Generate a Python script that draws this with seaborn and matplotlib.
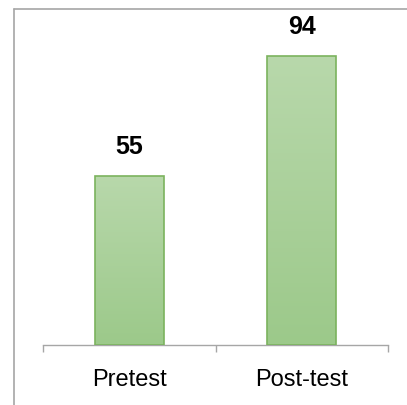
import numpy as np
import pandas as pd
import matplotlib
matplotlib.use("Agg")
import matplotlib.pyplot as plt
from matplotlib.lines import Line2D
from matplotlib.colors import LinearSegmentedColormap
import seaborn as sns

categories = ["Pretest", "Post-test"]
scores = [55, 94]

sns.set_theme(style="white")
plt.rcParams["font.family"] = ["Liberation Sans Narrow", "Liberation Sans", "DejaVu Sans"]

df = pd.DataFrame({"test": categories, "score": scores})

fig = plt.figure(figsize=(4.07, 4.05), dpi=100)
ax = fig.add_axes([43 / 407, 60 / 405, 345 / 407, 336 / 405])

sns.barplot(data=df, x="test", y="score", order=categories, width=0.4,
            color="#a9d096", edgecolor="#7bb35e", linewidth=1.2, saturation=1, ax=ax)

# vertical gradient inside each bar
cmap = LinearSegmentedColormap.from_list("g", ["#9cc98a", "#b8d8ab"])
grad = np.linspace(0, 1, 256).reshape(-1, 1)
for patch in ax.patches:
    x0, y0 = patch.get_x(), patch.get_y()
    w, h = patch.get_width(), patch.get_height()
    im = ax.imshow(grad, cmap=cmap, origin="lower", aspect="auto",
                   extent=[x0, x0 + w, y0, y0 + h], zorder=patch.get_zorder() - 0.1)
    im.set_clip_path(patch)
    patch.set_facecolor("none")
    patch.set_zorder(3)

ax.set_xlim(-0.5, 1.5)
ax.set_ylim(0, 109.3)

ax.bar_label(ax.containers[0], labels=[str(v) for v in scores], padding=12,
             fontsize=18, fontweight="bold", color="black")

ax.set_xlabel("")
ax.set_ylabel("")
ax.set_yticks([])
ax.set_xticks([0, 1])
ax.set_xticklabels(categories, fontsize=17, color="black")
ax.set_xticks([-0.5, 0.5, 1.5], minor=True)
ax.tick_params(axis="x", which="major", length=0, pad=17)
ax.tick_params(axis="x", which="minor", bottom=True, length=5, width=1, color="#a6a6a6", direction="out")

for side in ["top", "left", "right"]:
    ax.spines[side].set_visible(False)
ax.spines["bottom"].set_color("#a6a6a6")
ax.spines["bottom"].set_linewidth(1)

# outer frame lines at the left and top edges
fig.add_artist(Line2D([14 / 407, 14 / 407], [0, 1 - 9 / 405], transform=fig.transFigure,
                      color="#a6a6a6", linewidth=1.2))
fig.add_artist(Line2D([14 / 407, 1], [1 - 9 / 405, 1 - 9 / 405], transform=fig.transFigure,
                      color="#a6a6a6", linewidth=1.2))

fig.savefig("out.png", dpi=100)
